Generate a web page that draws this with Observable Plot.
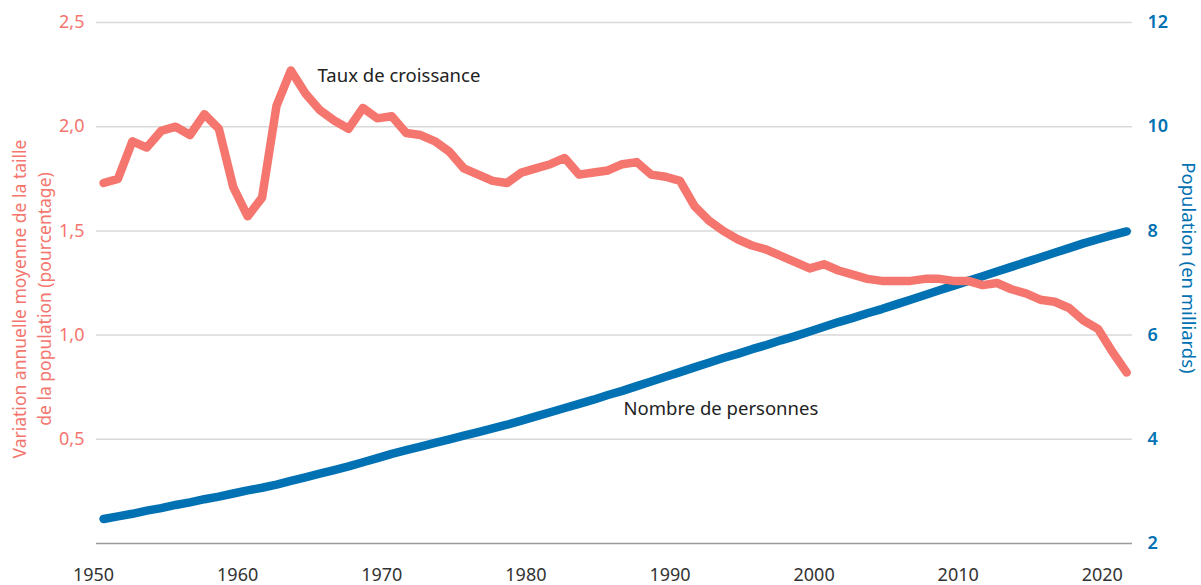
<!DOCTYPE html>
<html><head><meta charset="utf-8">
<script src="https://cdn.jsdelivr.net/npm/d3@7"></script>
<script src="https://cdn.jsdelivr.net/npm/@observablehq/plot@0.6"></script>
<style>body{margin:0;background:#fff}</style>
</head><body><div id="chart"></div>
<script>
const years = [
  1950,1951,1952,1953,1954,1955,1956,1957,1958,1959,
  1960,1961,1962,1963,1964,1965,1966,1967,1968,1969,
  1970,1971,1972,1973,1974,1975,1976,1977,1978,1979,
  1980,1981,1982,1983,1984,1985,1986,1987,1988,1989,
  1990,1991,1992,1993,1994,1995,1996,1997,1998,1999,
  2000,2001,2002,2003,2004,2005,2006,2007,2008,2009,
  2010,2011,2012,2013,2014,2015,2016,2017,2018,2019,
  2020,2021];
// Variation annuelle moyenne (%)
const growthRate = [
  1.73,1.75,1.93,1.90,1.98,2.00,1.96,2.06,1.99,1.71,
  1.57,1.66,2.10,2.27,2.16,2.08,2.03,1.99,2.09,2.04,
  2.05,1.97,1.96,1.93,1.88,1.80,1.77,1.74,1.73,1.78,
  1.80,1.82,1.85,1.77,1.78,1.79,1.82,1.83,1.77,1.76,
  1.74,1.62,1.55,1.50,1.46,1.43,1.41,1.38,1.35,1.32,
  1.34,1.31,1.29,1.27,1.26,1.26,1.26,1.27,1.27,1.26,
  1.26,1.24,1.25,1.22,1.20,1.17,1.16,1.13,1.07,1.03,
  0.92,0.82];
// Population (en milliards)
const population = [
  2.47,2.52,2.57,2.63,2.68,2.74,2.79,2.85,2.90,2.96,
  3.02,3.07,3.13,3.20,3.27,3.34,3.41,3.48,3.56,3.64,
  3.72,3.79,3.86,3.93,4.00,4.07,4.14,4.21,4.28,4.36,
  4.44,4.52,4.60,4.68,4.76,4.85,4.93,5.02,5.11,5.20,
  5.29,5.38,5.47,5.56,5.64,5.73,5.81,5.90,5.98,6.07,
  6.16,6.25,6.33,6.42,6.50,6.59,6.68,6.77,6.86,6.95,
  7.04,7.13,7.22,7.31,7.40,7.49,7.58,7.67,7.76,7.84,
  7.92,7.99];
const xTicks = [1950,1960,1970,1980,1990,2000,2010,2020];
const rateTicks = [0.5,1.0,1.5,2.0,2.5];
const popTicks = [2,4,6,8,10,12];
const rateLabel = "Taux de croissance";
const popLabel = "Nombre de personnes";
const leftTitle = "Variation annuelle moyenne de la taille\nde la population (pourcentage)";
const rightTitle = "Population (en milliards)";

const RED = "#f4766e", BLUE = "#0071b2";
const data = years.map((year, i) => ({year, rate: growthRate[i], pop: population[i]}));
// dual axis: population 2..12 maps onto rate 0..2.5
const popToRate = p => (p - 2) / 4;
const comma = v => d3.format(".1f")(v).replace(".", ",");

const chart = Plot.plot({
  width: 1201, height: 585,
  marginTop: 22, marginBottom: 42, marginLeft: 96, marginRight: 69,
  style: {fontFamily: "'Noto Sans', sans-serif", fontSize: "18px", background: "#fff", overflow: "visible"},
  x: {domain: [1949.51, 2021.4]},
  y: {domain: [0, 2.5]},
  marks: [
    Plot.ruleY(rateTicks, {stroke: "#d9d9d9", strokeWidth: 1.5}),
    Plot.ruleY([0], {stroke: "#9a9a9a", strokeWidth: 1.5}),
    Plot.line(data, {x: "year", y: d => popToRate(d.pop), stroke: BLUE, strokeWidth: 8.5, strokeLinecap: "round", strokeLinejoin: "round"}),
    Plot.line(data, {x: "year", y: "rate", stroke: RED, strokeWidth: 8.5, strokeLinecap: "round", strokeLinejoin: "round"}),
    Plot.axisX({ticks: xTicks, tickFormat: d => String(d), tickSize: 0, tickPadding: 25, dx: -10, fill: "#333", fontSize: 18, label: null}),
    Plot.axisY({anchor: "left", ticks: rateTicks, tickFormat: comma, tickSize: 0, tickPadding: 12, fill: RED, fontSize: 18, label: null}),
    Plot.axisY({anchor: "right", ticks: popTicks.map(popToRate), tickFormat: d => String(Math.round(2 + 4 * d)), tickSize: 0, tickPadding: 15, fill: BLUE, fontSize: 18, fontWeight: 600, label: null}),
    Plot.text([rateLabel], {x: 1964.85, y: 2.245, text: d => d, textAnchor: "start", fill: "#222", fontSize: 18.5}),
    Plot.text([popLabel], {x: 1986.08, y: 0.644, text: d => d, textAnchor: "start", fill: "#222", fontSize: 18.5}),
    Plot.text([leftTitle], {frameAnchor: "left", text: d => d, textAnchor: "middle", rotate: -90, dx: -66, dy: 16, fill: RED, fontSize: 17.5, lineHeight: 1.4}),
    Plot.text([rightTitle], {frameAnchor: "right", text: d => d, textAnchor: "middle", rotate: 90, dx: 55, dy: -15, fill: BLUE, fontSize: 18.5})
  ]
});
document.getElementById("chart").append(chart);
</script>
</body></html>
